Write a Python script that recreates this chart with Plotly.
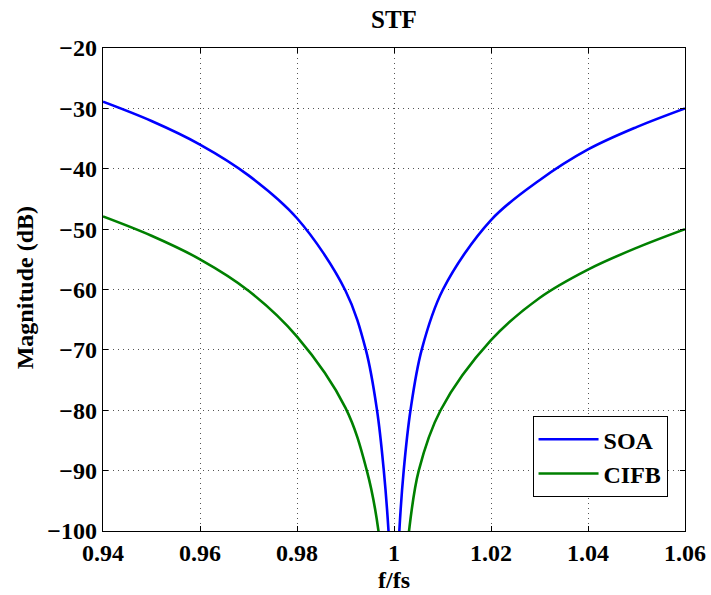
import plotly.graph_objects as go

# SOA curve, left and right of the notch
soa_f = [0.94, 0.95, 0.96, 0.97, 0.98, 0.99, 0.9942,
         0.9965, 0.9979, 0.99887, 0.99905]
soa_db = [-28.9, -32.1, -36.0, -41.1, -48.2, -60.2, -70.0,
          -80.0, -90.0, -100.0, -103.0]
soa_f_r = [1.00095, 1.0011, 1.0020, 1.0034, 1.0057, 1.0101, 1.02,
           1.03, 1.04, 1.05, 1.06]
soa_db_r = [-103.0, -100.0, -90.0, -80.0, -70.0, -60.0, -48.5,
            -41.9, -36.8, -33.1, -30.0]

# CIFB curve, left and right of the notch
cifb_f = [0.94, 0.95, 0.96, 0.97, 0.98, 0.99, 0.9944,
          0.9968, 0.9971]
cifb_db = [-47.9, -51.1, -55.0, -60.2, -67.8, -79.6, -90.0,
           -100.0, -103.0]
cifb_f_r = [1.0028, 1.0031, 1.0051, 1.0096, 1.02, 1.03,
            1.04, 1.05, 1.06]
cifb_db_r = [-103.0, -100.0, -90.0, -80.0, -68.4, -61.4,
             -56.7, -53.1, -50.0]

x_ticks = [0.94, 0.96, 0.98, 1.0, 1.02, 1.04, 1.06]
x_labels = ["0.94", "0.96", "0.98", "1", "1.02", "1.04", "1.06"]
y_ticks = [-100, -90, -80, -70, -60, -50, -40, -30, -20]
y_labels = ["\u2212100", "\u221290", "\u221280", "\u221270", "\u221260",
            "\u221250", "\u221240", "\u221230", "\u221220"]

FONT = "Liberation Serif"
BLUE = "rgb(0,0,255)"
GREEN = "rgb(0,128,0)"

fig = go.Figure()
fig.add_trace(go.Scatter(x=soa_f, y=soa_db, mode="lines", name="<b>SOA</b>",
                         legendgroup="soa", showlegend=True,
                         line=dict(color=BLUE, width=2.6, shape="spline", smoothing=1.0)))
fig.add_trace(go.Scatter(x=soa_f_r, y=soa_db_r, mode="lines", name="<b>SOA</b>",
                         legendgroup="soa", showlegend=False,
                         line=dict(color=BLUE, width=2.6, shape="spline", smoothing=1.0)))
fig.add_trace(go.Scatter(x=cifb_f, y=cifb_db, mode="lines", name="<b>CIFB</b>",
                         legendgroup="cifb", showlegend=True,
                         line=dict(color=GREEN, width=2.6, shape="spline", smoothing=1.0)))
fig.add_trace(go.Scatter(x=cifb_f_r, y=cifb_db_r, mode="lines", name="<b>CIFB</b>",
                         legendgroup="cifb", showlegend=False,
                         line=dict(color=GREEN, width=2.6, shape="spline", smoothing=1.0)))

axis_common = dict(
    showline=True, linecolor="black", linewidth=1.3, mirror="ticks",
    ticks="inside", ticklen=5, tickcolor="black", tickwidth=1,
    showgrid=True, gridcolor="#555", griddash="1px,4px", gridwidth=1,
    zeroline=False, automargin=False,
    tickfont=dict(family=FONT, size=24, color="black", weight="bold"),
)

fig.update_xaxes(range=[0.94, 1.06], tickvals=x_ticks, ticktext=x_labels, **axis_common)
fig.update_yaxes(range=[-100, -20], tickvals=y_ticks, ticktext=y_labels, **axis_common)

fig.update_layout(
    width=711, height=595,
    margin=dict(l=103, r=26, t=48, b=64, autoexpand=False),
    paper_bgcolor="white", plot_bgcolor="white",
    font=dict(family=FONT, color="black"),
    legend=dict(x=0.97, y=0.07, xanchor="right", yanchor="bottom",
                bgcolor="white", bordercolor="black", borderwidth=1,
                font=dict(family=FONT, size=24, color="black"),
                itemwidth=60, tracegroupgap=0, traceorder="grouped"),
    showlegend=True,
    annotations=[
        dict(text="<b>STF</b>", xref="paper", yref="paper", x=0.5, y=1.06,
             xanchor="center", yanchor="middle", showarrow=False,
             font=dict(family=FONT, size=25, color="black")),
        dict(text="<b>f/fs</b>", xref="paper", yref="paper", x=0.5, y=-0.102,
             xanchor="center", yanchor="middle", showarrow=False,
             font=dict(family=FONT, size=24, color="black")),
        dict(text="<b>Magnitude (dB)</b>", xref="paper", yref="paper", x=-0.1345, y=0.504,
             xanchor="center", yanchor="middle", showarrow=False, textangle=-90,
             font=dict(family=FONT, size=24, color="black")),
    ],
)

# remove the default 8px page margin so the figure fills the window exactly
fig.write_html("out.html",
               config={"displayModeBar": False},
               post_script="document.body.style.margin='0';document.body.style.overflow='hidden';")
